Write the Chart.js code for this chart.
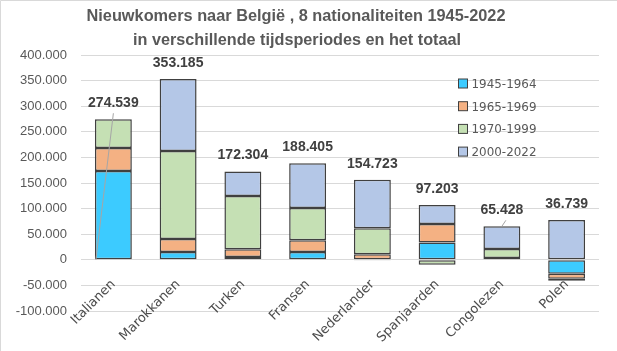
<!DOCTYPE html>
<html>
<head>
<meta charset="utf-8">
<script src="https://cdn.jsdelivr.net/npm/chart.js@4.4.1/dist/chart.umd.min.js"></script>
<style>
  html, body { margin: 0; padding: 0; background: #fff; }
  #wrap { width: 617px; height: 351px; position: relative; }
</style>
</head>
<body>
<div id="wrap"><canvas id="myChart" width="617" height="351"></canvas></div>
<script>
const categories = ['Italianen', 'Marokkanen', 'Turken', 'Fransen', 'Nederlander', 'Spanjaarden', 'Congolezen', 'Polen'];
const period1945 = [173200, 15000, 5300, 15000, -1500, 33800, 1500, -27300];
const period1965 = [45000, 25400, 15500, 23400, 11000, 35900, 2000, -9800];
const period1970 = [56339, 171900, 103600, 62600, 50800, -9600, 17400, -3900];
const period2000 = [0, 140885, 47904, 87405, 94423, 37103, 44528, 77739];
const totals = [274539, 353185, 172304, 188405, 154723, 97203, 65428, 36739];
const yTicks = [-100000, -50000, 0, 50000, 100000, 150000, 200000, 250000, 300000, 350000, 400000];

const titleLines = ['Nieuwkomers naar België , 8 nationaliteiten 1945-2022', 'in verschillende tijdsperiodes en het totaal'];

function fmt(v) {
    const s = Math.abs(v).toString().replace(/\B(?=(\d{3})+(?!\d))/g, '.');
    return (v < 0 ? '-' : '') + s;
}

const colors = ['#3CCBFF', '#F4B183', '#C5E0B4', '#B4C7E7'];
const labels = ['1945-1964', '1965-1969', '1970-1999', '2000-2022'];
const series = [period1945, period1965, period1970, period2000];

const extras = {
    id: 'extras',
    beforeDraw(chart) {
        const ctx = chart.ctx;
        ctx.save();
        ctx.fillStyle = '#fff';
        ctx.fillRect(0, 0, chart.width, chart.height);
        ctx.strokeStyle = '#D9D9D9';
        ctx.lineWidth = 1;
        ctx.beginPath();
        ctx.moveTo(0.5, chart.height);
        ctx.lineTo(0.5, 0.5);
        ctx.lineTo(chart.width, 0.5);
        ctx.stroke();
        ctx.restore();
    },
    afterDatasetsDraw(chart) {
        const ctx = chart.ctx;
        const x = chart.scales.x, y = chart.scales.y;
        ctx.save();

        // title
        ctx.fillStyle = '#595959';
        ctx.textAlign = 'center';
        ctx.textBaseline = 'middle';
        ctx.font = 'bold 17px "Liberation Sans"';
        ctx.fillText(titleLines[0], 296, 16, 419);
        ctx.fillText(titleLines[1], 297, 40, 328);

        // totals above the stacks
        ctx.font = 'bold 14px "Liberation Sans"';
        ctx.fillStyle = '#404040';
        const meta = chart.getDatasetMeta(0);
        totals.forEach((t, i) => {
            let top = 0;
            series.forEach(s => { if (s[i] > 0) top += s[i]; });
            const cx = x.getPixelForValue(i);
            const ly = y.getPixelForValue(top) - 16;
            ctx.fillText(fmt(t), cx, ly);
            if (i === 0 || i === 6) {
                const bar = meta.data[i];
                ctx.strokeStyle = '#A6A6A6';
                ctx.lineWidth = 1;
                ctx.beginPath();
                if (i === 0) {
                    ctx.moveTo(cx, ly + 10);
                    ctx.lineTo(bar.x - bar.width / 2 + 1, y.getPixelForValue(0));
                } else {
                    ctx.moveTo(cx + 4, ly + 10);
                    ctx.lineTo(cx, y.getPixelForValue(top));
                }
                ctx.stroke();
            }
        });

        // legend
        ctx.font = '13px "DejaVu Sans"';
        ctx.textAlign = 'left';
        labels.forEach((l, k) => {
            const ry = 83.5 + k * 22.7;
            ctx.fillStyle = colors[k];
            ctx.fillRect(458.5, ry - 4.5, 9, 9);
            ctx.strokeStyle = '#404040';
            ctx.lineWidth = 1;
            ctx.strokeRect(458.5, ry - 4.5, 9, 9);
            ctx.fillStyle = '#595959';
            ctx.fillText(l, 471.5, ry + 1, 65);
        });
        ctx.restore();
    }
};

const config = {
    type: 'bar',
    data: {
        labels: categories,
        datasets: series.map((s, k) => ({
            label: labels[k],
            data: s,
            backgroundColor: colors[k],
            borderColor: '#404040',
            borderWidth: 1.5,
            borderSkipped: false,
            barPercentage: 0.57,
            categoryPercentage: 1
        }))
    },
    options: {
        responsive: false,
        animation: false,
        layout: { padding: { top: 55, bottom: 40, right: 18, left: 0 } },
        plugins: {
            legend: { display: false },
            title: { display: false },
            tooltip: { enabled: false }
        },
        scales: {
            x: {
                stacked: true,
                position: { y: 0 },
                grid: { display: false },
                border: { display: false },
                ticks: {
                    maxRotation: 45,
                    minRotation: 45,
                    padding: 9,
                    color: '#4D4D4D',
                    font: { family: 'DejaVu Sans', size: 13 }
                }
            },
            y: {
                stacked: true,
                min: -100000,
                max: 400000,
                afterBuildTicks(scale) { scale.ticks = yTicks.map(v => ({ value: v })); },
                afterFit(scale) { scale.width = 81; },
                grid: { color: '#D9D9D9', lineWidth: 1, drawTicks: false },
                border: { display: false },
                ticks: {
                    padding: 14,
                    color: '#595959',
                    font: { family: 'Liberation Sans', size: 13 },
                    callback: v => fmt(v)
                }
            }
        }
    },
    plugins: [extras]
};

new Chart(document.getElementById('myChart'), config);
</script>
</body>
</html>
